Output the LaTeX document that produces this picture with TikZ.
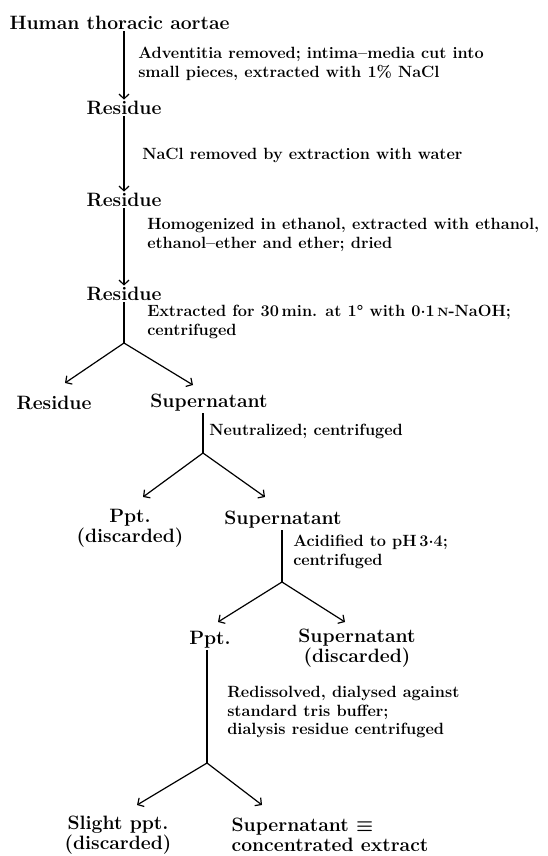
\documentclass[tikz,border=0pt]{standalone}
\usepackage{fontspec}
\setmainfont{Latin Modern Roman}
\usetikzlibrary{arrows.meta}
\newcommand\mdot{\raisebox{0.2em}{.}}
\begin{document}
\begin{tikzpicture}[x=0.75pt,y=-0.75pt,
  main/.style={font=\bfseries\fontsize{14.5}{15}\selectfont, inner sep=1pt, align=center},
  proc/.style={font=\bfseries\fontsize{12.2}{13.8}\selectfont, inner sep=0pt, align=left, anchor=west},
  conn/.style={line width=0.9pt},
  arr/.style={line width=0.9pt, -{Straight Barb[length=3.5pt,width=7.5pt]}}]
\useasboundingbox (0,0) rectangle (547,856);
% main column
\node[main, anchor=west] (n0) at (8,23) {Human thoracic aortae};
\node[main] (r1) at (124,108) {Residue};
\node[main] (r2) at (124,200) {Residue};
\node[main] (r3) at (124,294) {Residue};
\node[proc] (l1) at (138,64) {Adventitia removed; intima--media cut into\\small pieces, extracted with 1\% NaCl};
\node[proc] (l2) at (142,155) {NaCl removed by extraction with water};
\node[proc] (l3) at (147,235) {Homogenized in ethanol, extracted with ethanol,\\ethanol--ether and ether; dried};
\node[proc] (l4) at (147,322) {Extracted for 30\,min. at 1° with 0\mdot1\,{\fontsize{9}{9}\selectfont N}-NaOH;\\centrifuged};
\draw[arr] (r1 |- n0.south) -- (r1.north);
\draw[arr] (r1.south) -- (r2.north);
\draw[arr] (r2.south) -- (r3.north);
% first fork
\coordinate (f1) at (124,343);
\coordinate (tA) at (65,383);
\coordinate (tB) at (193,385);
\node[main] (resA) at (54,403) {Residue};
\node[main] (supA) at (209,403) {Supernatant};
\draw[conn] (r3.south) -- (f1);
\draw[arr] (f1) -- (tA);
\draw[arr] (f1) -- (tB);
% second fork
\coordinate (f2) at (203,453);
\coordinate (tC) at (143,497);
\coordinate (tD) at (265,497);
\node[proc] (l5) at (209,431) {Neutralized; centrifuged};
\node[main] (pptA) at (130,528) {Ppt.\\(discarded)};
\node[main] (supB) at (283,520) {Supernatant};
\draw[conn] (f2 |- supA.south) -- (f2);
\draw[arr] (f2) -- (tC);
\draw[arr] (f2) -- (tD);
% third fork
\coordinate (f3) at (282,582);
\coordinate (tE) at (218,622);
\coordinate (tF) at (345,622);
\node[proc] (l6) at (293,552) {Acidified to pH\,3\mdot4;\\centrifuged};
\node[main] (pptB) at (210,640) {Ppt.};
\node[main] (supC) at (357,648) {Supernatant\\(discarded)};
\draw[conn] (f3 |- supB.south) -- (f3);
\draw[arr] (f3) -- (tE);
\draw[arr] (f3) -- (tF);
% fourth fork
\coordinate (f4) at (207,763);
\coordinate (tG) at (137,805);
\coordinate (tH) at (262,805);
\node[proc] (l7) at (227,712) {Redissolved, dialysed against\\standard tris buffer;\\dialysis residue centrifuged};
\node[main] (slight) at (118,835) {Slight ppt.\\(discarded)};
\node[main, align=left, anchor=west] (supD) at (230,835) {Supernatant {\boldmath$\equiv$}\\concentrated extract};
\draw[conn] (f4 |- pptB.south) -- (f4);
\draw[arr] (f4) -- (tG);
\draw[arr] (f4) -- (tH);
\end{tikzpicture}
\end{document}
